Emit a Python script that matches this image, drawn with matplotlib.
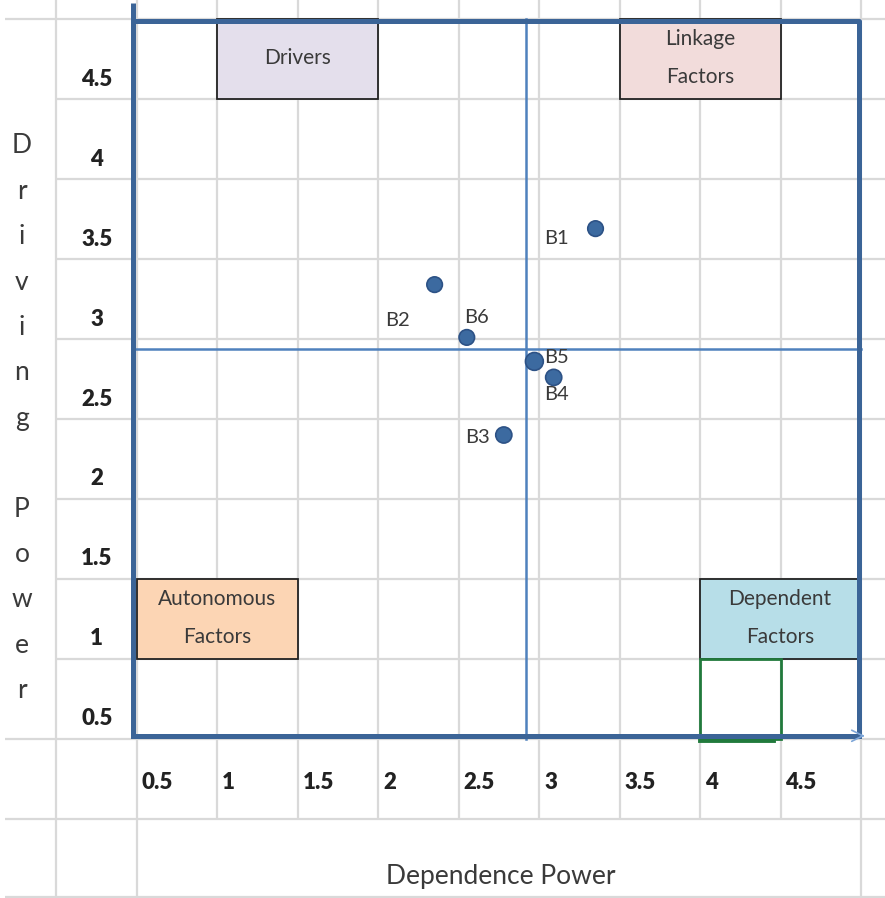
import matplotlib.pyplot as plt
from matplotlib.patches import Rectangle

plt.rcParams["font.family"] = ["Lato", "DejaVu Sans"]

# factors and their (dependence, driving) power
factors = ["B1", "B2", "B3", "B4", "B5", "B6"]
dependence = [3.35, 2.35, 2.78, 3.09, 2.97, 2.55]
driving = [3.69, 3.34, 2.40, 2.76, 2.86, 3.01]
# where each factor label sits relative to its point (offset points)
label_offsets = [(-28, -7), (-27, -26), (-19, -2), (2, -12), (16, 3), (7, 14)]
marker_sizes = [125, 125, 135, 135, 165, 125]

# quadrant split
mid_dependence = 2.92
mid_driving = 2.94

tick_values = [0.5, 1, 1.5, 2, 2.5, 3, 3.5, 4, 4.5]
tick_labels = ["0.5", "1", "1.5", "2", "2.5", "3", "3.5", "4", "4.5"]

# quadrant name boxes: text, (x0, y0), width, height, fill colour
quadrants = [
    ("Drivers", (1.0, 4.5), 1.0, 0.5, "#e4dfec"),
    ("Linkage\nFactors", (3.5, 4.5), 1.0, 0.5, "#f2dcdb"),
    ("Autonomous\nFactors", (0.5, 1.0), 1.0, 0.5, "#fcd5b4"),
    ("Dependent\nFactors", (4.0, 1.0), 0.99, 0.5, "#b7dee8"),
]

frame_col = "#3b6497"
mid_col = "#4f81bd"
grid_col = "#d9d9d9"
text_col = "#3a3a3a"

fig = plt.figure(figsize=(8.85, 8.98), dpi=100)
ax = fig.add_axes([0, 0, 1, 1])
ax.set_xlim(-0.351, 5.149)
ax.set_ylim(-0.494, 5.119)
ax.axis("off")

# spreadsheet cell grid
right = 5.149
ax.hlines([5.0, 0.5, 0.0, -0.49], -0.32, right, color=grid_col, lw=1.6, zorder=0)
ax.hlines([4.5, 4.0, 3.5, 3.0, 2.5, 2.0, 1.5, 1.0], 0.0, right, color=grid_col, lw=1.6, zorder=0)
ax.vlines([0.0, 0.5, 5.0], -0.494, 5.119, color=grid_col, lw=1.6, zorder=0)
ax.vlines([1, 1.5, 2, 2.5, 3, 3.5, 4, 4.5], 0.0, 5.119, color=grid_col, lw=1.6, zorder=0)

# quadrant boxes
for text, (x0, y0), w, h, fc in quadrants:
    ax.add_patch(Rectangle((x0, y0), w, h, facecolor=fc, edgecolor="#222222", lw=1.3, zorder=2))
    ax.text(x0 + w / 2, y0 + h / 2 + 0.005, text, ha="center", va="center",
            fontsize=15, color=text_col, linespacing=2.1, zorder=3)

# green highlight cell
ax.add_patch(Rectangle((4.0, 0.5), 0.5, 0.5, facecolor="none", edgecolor="#217a3c", lw=2, zorder=2))
ax.plot([4.0, 4.45], [0.495, 0.495], color="#217a3c", lw=3.5, zorder=2)

# outer frame
ax.plot([0.475, 0.475], [0.52, 5.1], color=frame_col, lw=3.6, zorder=4, solid_capstyle="butt")
ax.plot([0.475, 4.99, 4.99], [4.99, 4.99, 0.52], color=frame_col, lw=3.6, zorder=4)
ax.plot([0.475, 4.99], [0.52, 0.52], color=frame_col, lw=3.6, zorder=4)
ax.annotate("", xy=(5.04, 0.52), xytext=(4.99, 0.52),
            arrowprops=dict(arrowstyle="->", color="#7ea6d8", lw=1.2, mutation_scale=20), zorder=4)

# quadrant split lines
ax.plot([mid_dependence, mid_dependence], [0.5, 5.0], color=mid_col, lw=1.8, zorder=3)
ax.plot([0.475, 5.0], [mid_driving, mid_driving], color=mid_col, lw=1.8, zorder=3)

# factors
ax.scatter(dependence, driving, s=marker_sizes, color="#3c6aa0", edgecolor="#2d5286", lw=1.2, zorder=5)
for name, x, y, off in zip(factors, dependence, driving, label_offsets):
    ax.annotate(name, (x, y), xytext=off, textcoords="offset points", ha="center", va="center",
                fontsize=14.5, color=text_col, zorder=6)

# tick labels written in their cells
for v, lab in zip(tick_values, tick_labels):
    ax.text(v + 0.03, 0.23, lab, ha="left", va="center", fontsize=16, fontweight="heavy", color="#222222")
    ax.text(0.25, v + 0.125, lab, ha="center", va="center", fontsize=16, fontweight="heavy", color="#222222")

# axis titles
ax.text(2.76, -0.36, "Dependence Power", ha="center", va="center", fontsize=19, color=text_col)
ax.text(-0.215, 2.505, "\n".join("Driving Power"), ha="center", va="center", fontsize=19,
        color=text_col, linespacing=2.02)

fig.savefig("out.png", dpi=100)
